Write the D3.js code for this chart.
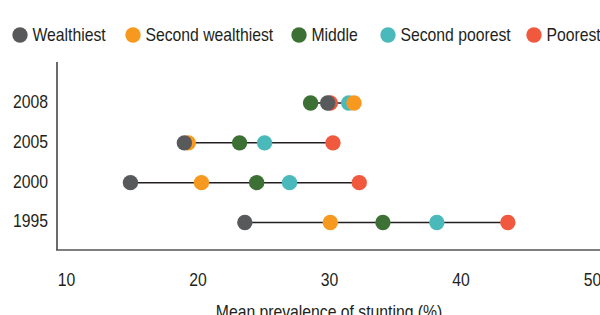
<!DOCTYPE html>
<html>
<head>
<meta charset="utf-8">
<script src="https://cdn.jsdelivr.net/npm/d3@7"></script>
<style>
  body { margin: 0; background: #fff; }
  text { font-family: "Liberation Sans", Arial, sans-serif; fill: #231f20; }
</style>
</head>
<body>
<script>
// data
var years = ["2008", "2005", "2000", "1995"];
var groups = ["Wealthiest", "Second wealthiest", "Middle", "Second poorest", "Poorest"];
var colors = ["#58595b", "#f7991f", "#3d7034", "#4ab9bb", "#f0593e"];
var wealthiest = [29.9, 19.0, 14.9, 23.6];
var secondWealthiest = [31.9, 19.3, 20.3, 30.1];
var middle = [28.6, 23.2, 24.5, 34.1];
var secondPoorest = [31.5, 25.1, 27.0, 38.2];
var poorest = [30.1, 30.3, 32.3, 43.6];
var xTicks = [10, 20, 30, 40, 50];

var series = [wealthiest, secondWealthiest, middle, secondPoorest, poorest];

var width = 600, height = 315;
var fontSize = "17.5px";
var narrow = "scale(0.9,1)"; // condensed look

var svg = d3.select("body").append("svg")
  .attr("width", width)
  .attr("height", height);

var x = d3.scaleLinear().domain([10, 50]).range([66, 592]);
var y = d3.scalePoint().domain(years).range([103, 222.5]);

// axes lines
svg.append("line")
  .attr("x1", 57).attr("x2", 57)
  .attr("y1", 62).attr("y2", 250)
  .style("stroke", "#3a3a3a").style("stroke-width", 1.5);
svg.append("line")
  .attr("x1", 56).attr("x2", 600)
  .attr("y1", 250).attr("y2", 250)
  .style("stroke", "#555").style("stroke-width", 1.5);

// x axis labels
var xAxis = svg.append("g")
  .attr("transform", "translate(0,273.5)")
  .call(d3.axisBottom(x).tickValues(xTicks).tickSize(0).tickPadding(0));
xAxis.select(".domain").remove();
xAxis.selectAll("text")
  .style("font-size", fontSize)
  .style("font-family", "'Liberation Sans', sans-serif")
  .attr("fill", "#231f20")
  .attr("transform", narrow);

// y axis labels
var yAxis = svg.append("g")
  .attr("transform", "translate(48,0)")
  .call(d3.axisLeft(y).tickSize(0).tickPadding(0));
yAxis.select(".domain").remove();
yAxis.selectAll("text")
  .style("font-size", fontSize)
  .style("font-family", "'Liberation Sans', sans-serif")
  .attr("fill", "#231f20")
  .attr("dy", "0.25em")
  .attr("transform", narrow);

// axis title
svg.append("text")
  .attr("transform", "translate(329,318) " + narrow)
  .attr("text-anchor", "middle")
  .style("font-size", fontSize)
  .text("Mean prevalence of stunting (%)");

// range lines
svg.selectAll("line.range")
  .data(years)
  .enter().append("line")
  .attr("class", "range")
  .attr("x1", function (d, i) { return x(d3.min(series, function (s) { return s[i]; })); })
  .attr("x2", function (d, i) { return x(d3.max(series, function (s) { return s[i]; })); })
  .attr("y1", function (d) { return y(d); })
  .attr("y2", function (d) { return y(d); })
  .style("stroke", "#231f20")
  .style("stroke-width", 1.5);

// dots, poorest drawn first so wealthiest sits on top
for (var g = series.length - 1; g >= 0; g--) {
  svg.selectAll("circle.g" + g)
    .data(series[g])
    .enter().append("circle")
    .attr("class", "g" + g)
    .attr("cx", function (d) { return x(d); })
    .attr("cy", function (d, i) { return y(years[i]); })
    .attr("r", 7.7)
    .style("fill", colors[g]);
}

// legend
var legendX = [20, 133, 299, 388, 534];
var legend = svg.selectAll("g.legend")
  .data(groups)
  .enter().append("g")
  .attr("class", "legend")
  .attr("transform", function (d, i) { return "translate(" + legendX[i] + ",35)"; });
legend.append("circle")
  .attr("r", 7.7)
  .style("fill", function (d, i) { return colors[i]; });
legend.append("text")
  .attr("transform", "translate(12.5,6.3) " + narrow)
  .style("font-size", fontSize)
  .text(function (d) { return d; });
</script>
</body>
</html>
